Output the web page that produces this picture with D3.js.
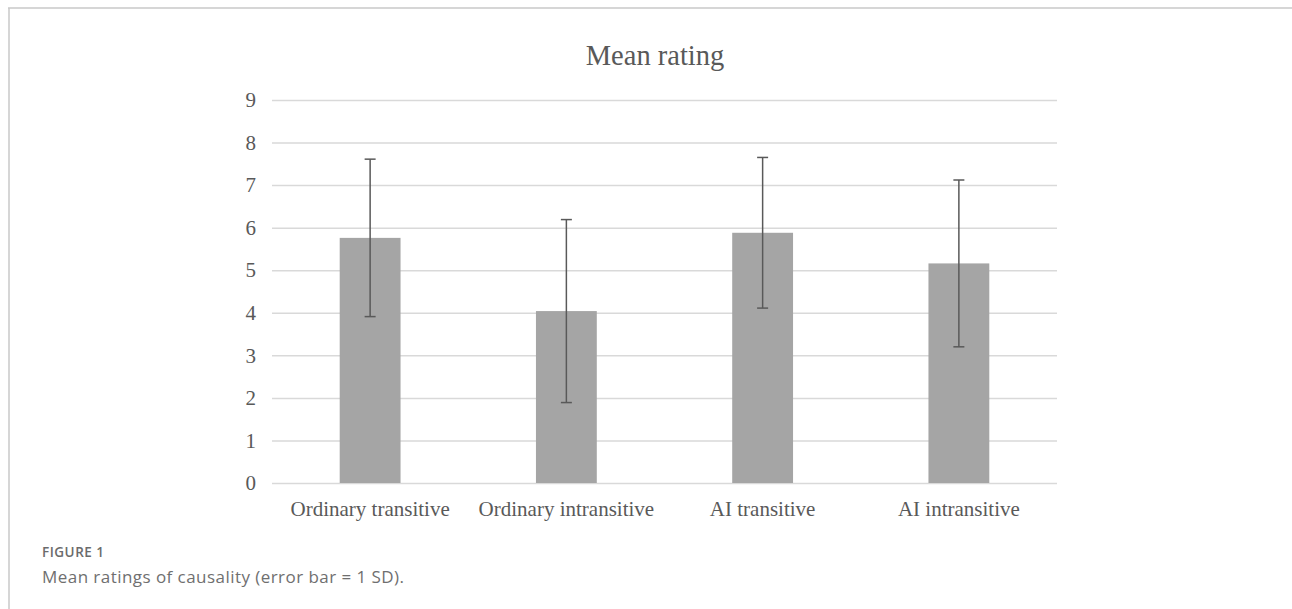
<!DOCTYPE html>
<html><head><meta charset="utf-8">
<script src="https://cdn.jsdelivr.net/npm/d3@7"></script>
<style>html,body{margin:0;padding:0;background:#fff;}svg{display:block;}</style>
</head><body>
<svg id="c" width="1292" height="609"></svg>
<script>
const categories = ["Ordinary transitive", "Ordinary intransitive", "AI transitive", "AI intransitive"];
const means = [5.76, 4.04, 5.88, 5.16];
const sds = [1.85, 2.15, 1.77, 1.96];
const yTicks = [0, 1, 2, 3, 4, 5, 6, 7, 8, 9];

const svg = d3.select("#c");
const W = 1292, H = 609;
const m = {left: 272, right: 1057, top: 100, bottom: 483};

// frame
svg.append("line").attr("x1", 8).attr("x2", W).attr("y1", 8).attr("y2", 8).attr("stroke", "#c8c8c8").attr("stroke-width", 1.5);
svg.append("line").attr("x1", 9).attr("x2", 9).attr("y1", 8).attr("y2", H).attr("stroke", "#c8c8c8").attr("stroke-width", 1.5);

const x = d3.scaleBand().domain(categories).range([m.left, m.right]).paddingInner(0.69).paddingOuter(0.345);
const y = d3.scaleLinear().domain([0, 9]).range([m.bottom, m.top]);

// gridlines
const yAxis = d3.axisLeft(y).tickValues(yTicks).tickSize(-(m.right - m.left)).tickPadding(16).tickFormat(d3.format("d"));
const gy = svg.append("g").attr("transform", `translate(${m.left},0)`).call(yAxis);
gy.select(".domain").remove();
gy.selectAll(".tick line").attr("stroke", "#d9d9d9").attr("stroke-width", 1.5);
gy.selectAll(".tick text").attr("fill", "#595959").attr("font-family", "Liberation Serif, Times New Roman, serif").attr("font-size", 21);

// bars
svg.append("g").selectAll("rect").data(categories).join("rect")
  .attr("x", d => x(d)).attr("width", x.bandwidth())
  .attr("y", (d, i) => y(means[i])).attr("height", (d, i) => y(0) - y(means[i]))
  .attr("fill", "#a5a5a5");

// error bars
const eb = svg.append("g").attr("stroke", "#595959").attr("stroke-width", 1.5).attr("fill", "none");
categories.forEach((c, i) => {
  const cx = x(c) + x.bandwidth() / 2;
  eb.append("line").attr("x1", cx).attr("x2", cx).attr("y1", y(means[i] + sds[i])).attr("y2", y(means[i] - sds[i]));
  eb.append("line").attr("x1", cx - 5.5).attr("x2", cx + 5.5).attr("y1", y(means[i] + sds[i])).attr("y2", y(means[i] + sds[i]));
  eb.append("line").attr("x1", cx - 5.5).attr("x2", cx + 5.5).attr("y1", y(means[i] - sds[i])).attr("y2", y(means[i] - sds[i]));
});

// x axis labels
const xAxis = d3.axisBottom(x).tickSize(0).tickPadding(18);
const gx = svg.append("g").attr("transform", `translate(0,${m.bottom})`).call(xAxis);
gx.select(".domain").remove();
gx.selectAll(".tick text").attr("fill", "#595959").attr("font-family", "Liberation Serif, Times New Roman, serif").attr("font-size", 21);

// title
svg.append("text").attr("x", 655).attr("y", 65).attr("text-anchor", "middle")
  .attr("fill", "#595959").attr("font-family", "Liberation Serif, Times New Roman, serif").attr("font-size", 28.5).text("Mean rating");

// caption
svg.append("text").attr("x", 42).attr("y", 557).attr("fill", "#6b6b6b").attr("font-family", "Open Sans, sans-serif")
  .attr("font-size", 13.5).attr("font-weight", 600).attr("letter-spacing", 0.5).text("FIGURE 1");
svg.append("text").attr("x", 42).attr("y", 583).attr("fill", "#6f6f6f").attr("font-family", "Open Sans, sans-serif")
  .attr("font-size", 17).attr("letter-spacing", 0.45).text("Mean ratings of causality (error bar = 1 SD).");
</script>
</body></html>
